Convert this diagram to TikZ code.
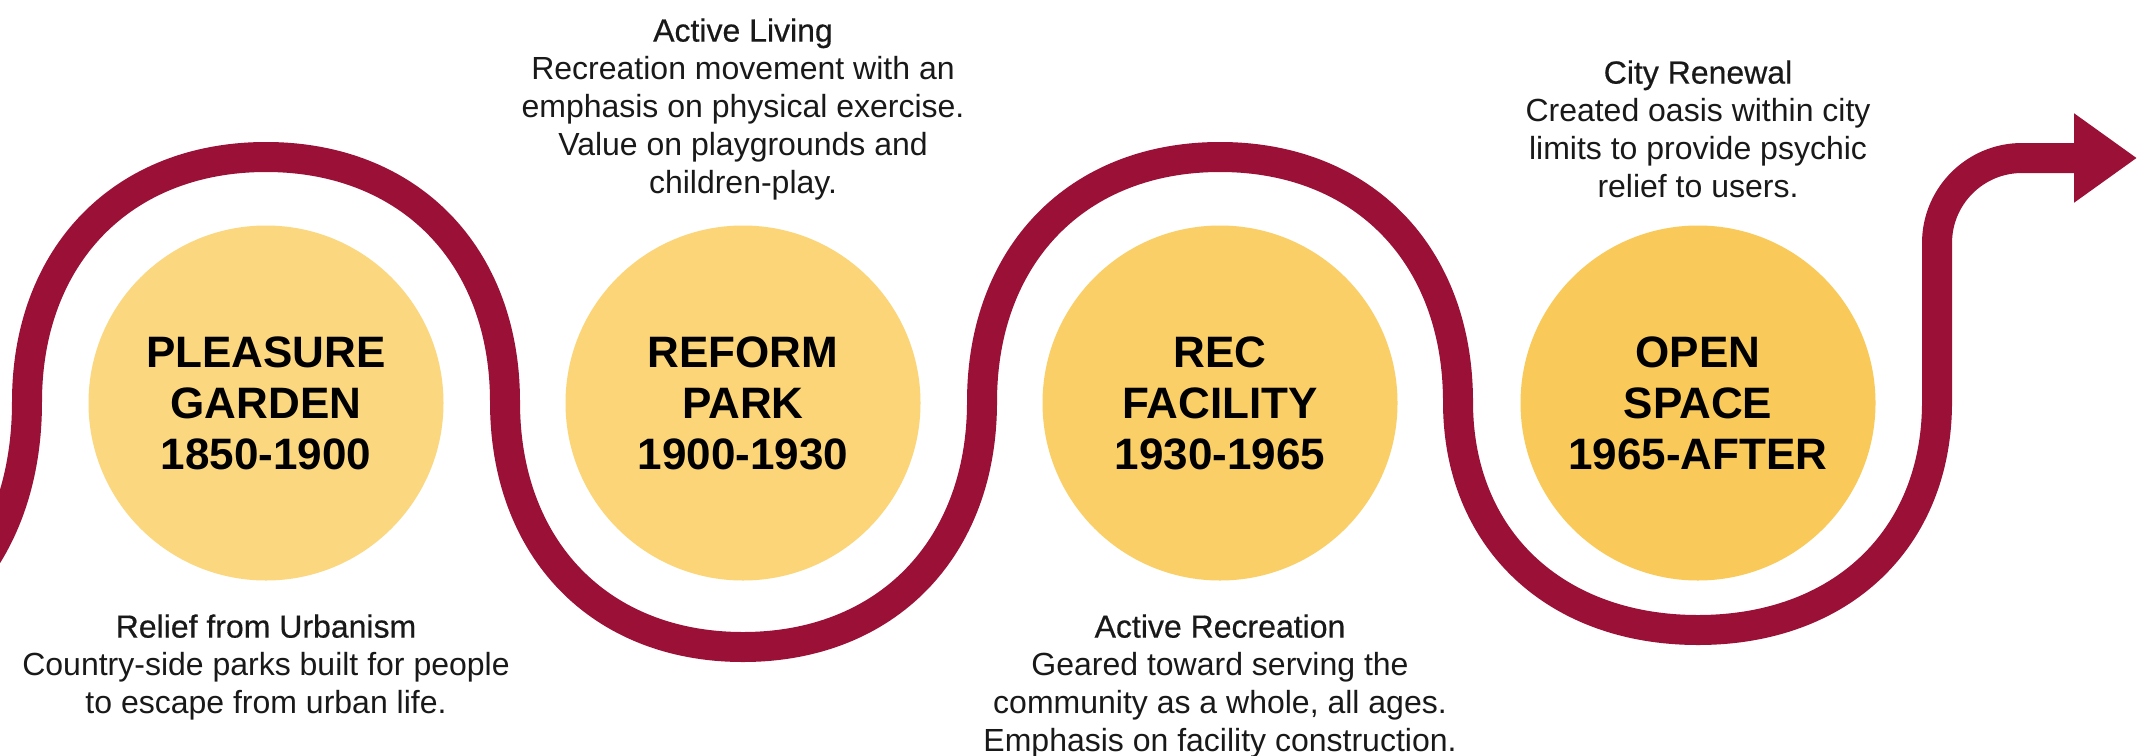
\documentclass[tikz,border=0pt]{standalone}
\usepackage{fontspec}
\setmainfont{Liberation Sans}
\newfontfamily\headfont[FakeBold=0.5]{Liberation Sans}
\usetikzlibrary{arrows.meta}
\definecolor{maroon}{RGB}{154,16,54}
\definecolor{sunA}{RGB}{251,216,128}
\definecolor{sunB}{RGB}{251,213,119}
\definecolor{sunC}{RGB}{250,207,103}
\definecolor{sunD}{RGB}{249,202,90}

\begin{document}
\begin{tikzpicture}[x=0.5pt,y=-0.5pt,
   era/.style={circle,minimum size=177.5pt,inner sep=0pt,align=center,
      font=\fontsize{22}{25.5}\selectfont\bfseries},
   note/.style={align=center,inner sep=0pt,anchor=north,text=black!90,
      font=\fontsize{16}{19}\selectfont}]
   \useasboundingbox (0,0) rectangle (2139,755);
   \clip (0,0) rectangle (2139,755);
   \fill[white] (0,0) rectangle (2139,755);
   % the four eras
   \node[era,fill=sunA] (pleasure) at (266,403)  {PLEASURE\\GARDEN\\1850-1900};
   \node[era,fill=sunB] (reform)   at (743,403)  {REFORM\\PARK\\1900-1930};
   \node[era,fill=sunC] (rec)      at (1220,403) {REC\\FACILITY\\1930-1965};
   \node[era,fill=sunD] (open)     at (1698,403) {OPEN\\SPACE\\1965-AFTER};
   % winding line
   \draw[maroon,line width=15pt,-{Triangle[length=31.5pt,width=42.5pt]}]
      (-211,660) .. controls (-68,660) and (27,557) .. (27,402)
      .. controls (27,255) and (123,157) .. (266,157)
      .. controls (409,157) and (505,255) .. (505,402)
      .. controls (505,549) and (600,647) .. (743,647)
      .. controls (886,647) and (982,549) .. (982,402)
      .. controls (982,255) and (1077,157) .. (1220,157)
      .. controls (1363,157) and (1458,255) .. (1458,402)
      .. controls (1458,539) and (1555,630) .. (1698,630)
      .. controls (1841,630) and (1937,539) .. (1937,402)
      -- (1937,243) arc[start angle=180,end angle=270,radius=85] -- (2137,158);
   % notes
   \node[note] (relief)     at (266,614)  {{\headfont Relief from Urbanism}\\Country-side parks built for people\\to escape from urban life.};
   \node[note] (living)     at (743,18)   {{\headfont Active Living}\\Recreation movement with an\\emphasis on physical exercise.\\Value on playgrounds and\\children-play.};
   \node[note] (recreation) at (1220,614) {{\headfont Active Recreation}\\Geared toward serving the\\community as a whole, all ages.\\Emphasis on facility construction.};
   \node[note] (renewal)    at (1698,60)  {{\headfont City Renewal}\\Created oasis within city\\limits to provide psychic\\relief to users.};
\end{tikzpicture}
\end{document}
